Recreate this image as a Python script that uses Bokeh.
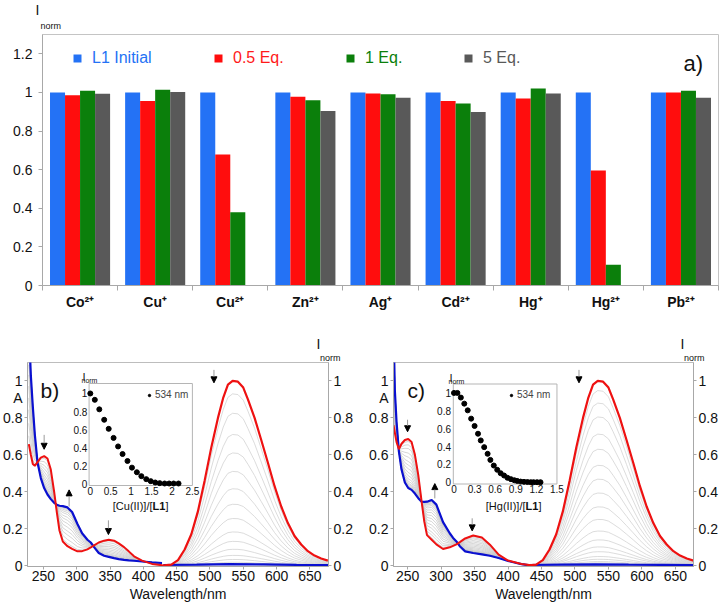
import numpy as np
from bokeh.plotting import figure
from bokeh.models import (Range1d, LinearAxis, FixedTicker, Label, Legend, LegendItem,
                          Arrow, NormalHead, Title)
from bokeh.layouts import column, row
from bokeh.embed import file_html
from bokeh.resources import INLINE
from bokeh.core.properties import value

FONT = "Liberation Sans"

# ---------------- (a) bar chart data ----------------
ions = ["Co²⁺", "Cu⁺", "Cu²⁺", "Zn²⁺", "Ag⁺", "Cd²⁺", "Hg⁺", "Hg²⁺", "Pb²⁺"]
series_labels = ["L1 Initial", "0.5 Eq.", "1 Eq.", "5 Eq."]
l1_initial = [1.0, 1.0, 1.0, 1.0, 1.0, 1.0, 1.0, 1.0, 1.0]
eq_05 = [0.986, 0.956, 0.679, 0.978, 0.995, 0.956, 0.969, 0.595, 1.0]
eq_1 = [1.009, 1.014, 0.379, 0.959, 0.99, 0.942, 1.02, 0.108, 1.009]
eq_5 = [0.993, 1.002, 0.003, 0.904, 0.973, 0.899, 0.995, 0.003, 0.973]
a_yticks = [0, 0.2, 0.4, 0.6, 0.8, 1.0, 1.2]
a_ylabels = ["0", "0.2", "0.4", "0.6", "0.8", "1", "1.2"]

# ---------------- (b)/(c) spectra data ----------------
spec_yticks = [0, 0.2, 0.4, 0.6, 0.8, 1.0]
spec_ylabels = ["0", "0.2", "0.4", "0.6", "0.8", "1"]
abs_title_pos = 0.91          # where the "A" title of the absorbance axis sits
wl_ticks = [250, 300, 350, 400, 450, 500, 550, 600, 650]

# absorption, panel b (Cu(II))
abs_b_nm = [228, 231, 234, 237, 241, 246, 251, 256, 261, 266, 270, 274, 279, 286, 293, 301,
            308, 316, 321, 326, 333, 341, 348, 356, 363, 371, 378, 386, 398, 413, 428]
abs_b_red = [0.658, 0.60, 0.55, 0.54, 0.56, 0.585, 0.593, 0.58, 0.52, 0.40, 0.29, 0.19, 0.13,
             0.105, 0.09, 0.077, 0.078, 0.088, 0.098, 0.11, 0.125, 0.135, 0.14, 0.135, 0.12,
             0.10, 0.077, 0.05, 0.027, 0.009, 0.002]
abs_b_blue = [1.3, 1.03, 0.86, 0.71, 0.56, 0.474, 0.42, 0.385, 0.36, 0.34, 0.33, 0.324, 0.322,
              0.315, 0.29, 0.225, 0.175, 0.14, 0.125, 0.10, 0.068, 0.053, 0.047, 0.04, 0.035,
              0.031, 0.028, 0.026, 0.022, 0.017, 0.014]

# absorption, panel c (Hg(II))
abs_c_nm = [229, 231, 233.5, 237, 241, 246, 251, 256, 261, 266, 271, 275, 279, 286, 293, 303,
            313, 318, 323, 328, 336, 348, 361, 373, 386, 400, 420, 435]
abs_c_red = [0.76, 0.72, 0.67, 0.63, 0.66, 0.68, 0.686, 0.67, 0.60, 0.49, 0.346, 0.238, 0.165,
             0.14, 0.115, 0.09, 0.099, 0.107, 0.115, 0.127, 0.147, 0.163, 0.152, 0.113, 0.059,
             0.027, 0.009, 0.002]
abs_c_blue = [1.3, 0.95, 0.78, 0.62, 0.52, 0.45, 0.42, 0.41, 0.39, 0.365, 0.346, 0.345, 0.346,
              0.355, 0.33, 0.235, 0.175, 0.15, 0.131, 0.105, 0.077, 0.068, 0.061, 0.053, 0.041,
              0.025, 0.008, 0.0]

# emission of free L1 (normalised)
em_nm = [428, 442, 452, 462, 472, 482, 492, 502, 512, 520, 527, 534, 542, 550, 557, 567, 577,
         587, 597, 607, 617, 627, 637, 647, 657, 667, 677]
em_red = [0.0, 0.005, 0.03, 0.087, 0.17, 0.295, 0.46, 0.64, 0.80, 0.91, 0.98, 1.0, 0.996, 0.964,
          0.90, 0.80, 0.68, 0.557, 0.43, 0.32, 0.23, 0.16, 0.114, 0.078, 0.054, 0.038, 0.027]
# emission after titration (final)
em_blue_nm = [430, 480, 530, 580, 630, 678]
em_blue_b = [0.003, 0.005, 0.008, 0.006, 0.004, 0.003]
em_blue_c = [0.003, 0.005, 0.007, 0.005, 0.004, 0.003]

# insets: I_norm at 534 nm vs equivalents
ins_b_x = [0, 0.11, 0.22, 0.34, 0.45, 0.57, 0.68, 0.79, 0.91, 1.02, 1.14, 1.25, 1.37, 1.48,
           1.59, 1.70, 1.82, 1.93, 2.04, 2.16]
ins_b_y = [1.0, 0.93, 0.825, 0.71, 0.61, 0.51, 0.416, 0.332, 0.255, 0.182, 0.131, 0.088, 0.055,
           0.033, 0.018, 0.011, 0.007, 0.007, 0.007, 0.007]
ins_c_x = [0, 0.05, 0.1, 0.15, 0.2, 0.25, 0.3, 0.35, 0.39, 0.44, 0.49, 0.53, 0.58, 0.63, 0.68,
           0.73, 0.78, 0.83, 0.88, 0.92, 0.97, 1.02, 1.07, 1.12, 1.16, 1.21, 1.26]
ins_c_y = [1.0, 1.0, 0.948, 0.88, 0.805, 0.712, 0.63, 0.543, 0.468, 0.393, 0.318, 0.25, 0.187,
           0.139, 0.101, 0.075, 0.049, 0.034, 0.022, 0.015, 0.007, 0.004, 0.002, 0.0, 0.0, 0.0, 0.0]
ins_b_xticks = [0, 0.5, 1, 1.5, 2, 2.5]
ins_b_xlabels = ["0", "0.5", "1", "1.5", "2", "2.5"]
ins_c_xticks = [0, 0.3, 0.6, 0.9, 1.2, 1.5]
ins_c_xlabels = ["0", "0.3", "0.6", "0.9", "1.2", "1.5"]

RED = "#EE1111"
BLUE = "#0A10D0"
GRAY_ABS = "#c4c4c4"
GRAY_EM = "#d3d3d3"
AXC = "#a8a8a8"


def style_axis(ax, size, ticks, labels=None, bold=False, tick_out=3, minor=None):
    ax.ticker = FixedTicker(ticks=ticks, minor_ticks=minor or [])
    if labels is not None:
        ax.major_label_overrides = {t: l for t, l in zip(ticks, labels)}
    ax.major_label_text_font = FONT
    ax.major_label_text_font_size = size
    ax.major_label_text_color = "#111111"
    if bold:
        ax.major_label_text_font_style = "bold"
    ax.axis_line_color = AXC
    ax.major_tick_line_color = AXC
    ax.minor_tick_line_color = AXC
    ax.major_tick_in = 0
    ax.major_tick_out = tick_out
    ax.minor_tick_in = 0
    ax.minor_tick_out = 3 if minor else 0
    ax.major_label_standoff = 2


def add_label(p, text, x, y, size, bold=False, color="#111111", align="left"):
    p.add_layout(Label(x=x, y=y, x_units="screen", y_units="screen", text=text,
                       text_font=FONT, text_font_size=size, text_color=color,
                       text_font_style="bold" if bold else "normal",
                       text_align=align, text_baseline="alphabetic"))


def add_title(p, text, place, size, align, offset, standoff=0):
    p.add_layout(Title(text=text, align=align, offset=offset, standoff=standoff,
                       text_font=FONT, text_font_size=size, text_font_style="normal",
                       text_color="#111111"), place)


# ======================= (a) =======================
pa = figure(width=720, height=312, x_range=Range1d(0, len(ions)), y_range=Range1d(0, 1.3),
            output_backend="svg", toolbar_location=None,
            min_border_left=42, min_border_right=2, min_border_top=34, min_border_bottom=24)
pa.grid.visible = False
pa.outline_line_color = "#c4c4c4"

bar_colors = ["#2472F5", "#FF0D0D", "#0B7F0B", "#595959"]
text_colors = ["#2472F5", "#FF1A1A", "#0B7F0B", "#595959"]
offsets = [-0.3, -0.1, 0.1, 0.3]
bar_renderers = []
for vals, col, off in zip([l1_initial, eq_05, eq_1, eq_5], bar_colors, offsets):
    xs = [i + 0.5 + off for i in range(len(ions))]
    r = pa.vbar(x=xs, top=vals, bottom=0, width=0.2, fill_color=col, line_color=None)
    bar_renderers.append(r)

centers = [i + 0.5 for i in range(len(ions))]
style_axis(pa.xaxis[0], "14px", centers, ions, bold=True, tick_out=0)
pa.xaxis[0].ticker = FixedTicker(ticks=centers, minor_ticks=list(range(len(ions) + 1)))
pa.xaxis[0].minor_tick_out = 5
pa.xaxis[0].major_label_standoff = 3
style_axis(pa.yaxis[0], "14px", a_yticks, a_ylabels, tick_out=4)
pa.yaxis[0].major_label_standoff = 6

legend_x = [30, 171, 303, 421]
for r, lbl, tc, lx in zip(bar_renderers, series_labels, text_colors, legend_x):
    lg = Legend(items=[LegendItem(label=lbl, renderers=[r])], location=(lx, 218),
                orientation="horizontal", padding=0, margin=0, spacing=0,
                glyph_width=10, glyph_height=10, label_height=10, label_standoff=10,
                label_text_font=FONT, label_text_font_size="16px", label_text_color=tc,
                background_fill_alpha=0, border_line_alpha=0)
    pa.add_layout(lg)

add_title(pa, "norm", "above", "9px", "left", -2, standoff=7)
add_title(pa, "I", "above", "14px", "left", -7, standoff=-4)
add_label(pa, "a)", 641, 222, "22px")


# ======================= (b), (c) =======================
def inset_ranges(fw, fh, left, right, top, bottom, x0, x1, y0, y1):
    kx = (x1 - x0) / (right - left)
    ky = (y1 - y0) / (bottom - top)
    xr = Range1d(x0 - left * kx, x1 + (fw - right) * kx)
    yr = Range1d(y0 - (fh - bottom) * ky, y1 + top * ky)
    return xr, yr


def spectra_panel(width, bl, fw, xlim, abs_nm, abs_red, abs_blue, em_blue, ins_x, ins_y,
                  ins_xticks, ins_xlabels, ins_box, ins_lim, metal, panel_letter, arrows,
                  pos):
    fh = 204
    p = figure(width=width, height=291, x_range=Range1d(*xlim), y_range=Range1d(-0.005, 1.1),
               output_backend="svg", toolbar_location=None,
               min_border_left=bl, min_border_right=width - bl - fw,
               min_border_top=50, min_border_bottom=291 - 50 - fh)
    p.grid.visible = False
    p.outline_line_color = "#bdbdbd"
    p.extra_y_ranges = {"em": Range1d(-0.005, 1.1)}
    xr, yr = inset_ranges(fw, fh, *ins_box, *ins_lim)
    p.extra_x_ranges = {"ix": xr}
    p.extra_y_ranges["iy"] = yr

    # absorption titration family
    fracs = [1 - v for v in ins_y[1:-1]]
    p.multi_line(xs=[abs_nm] * len(fracs),
                 ys=[[r * (1 - f) + b * f for r, b in zip(abs_red, abs_blue)] for f in fracs],
                 line_color=GRAY_ABS, line_width=0.7)
    # emission titration family
    p.multi_line(xs=[em_nm] * (len(ins_y) - 1),
                 ys=[[e * k for e in em_red] for k in ins_y[1:]],
                 line_color=GRAY_EM, line_width=0.8, y_range_name="em")
    p.line(abs_nm, abs_blue, line_color=BLUE, line_width=2.2)
    p.line(em_blue_nm, em_blue, line_color=BLUE, line_width=2.2, y_range_name="em")
    p.line(abs_nm, abs_red, line_color=RED, line_width=2)
    p.line(em_nm, em_red, line_color=RED, line_width=2.2, y_range_name="em")

    for (ax_x, y0, y1, rng) in arrows:
        p.add_layout(Arrow(end=NormalHead(size=6, fill_color="black", line_color="black"),
                           x_start=ax_x, y_start=y0, x_end=ax_x, y_end=y1,
                           line_color="#9a9a9a", line_width=1, y_range_name=rng))

    style_axis(p.xaxis[0], "14px", wl_ticks, tick_out=3)
    p.xaxis[0].major_label_standoff = 1
    style_axis(p.yaxis[0], "14px", spec_yticks + [abs_title_pos], spec_ylabels + ["A"],
               tick_out=0, minor=spec_yticks)
    ra = LinearAxis(y_range_name="em")
    style_axis(ra, "14px", spec_yticks, spec_ylabels, tick_out=0, minor=spec_yticks)
    p.add_layout(ra, "right")

    add_title(p, "Wavelength/nm", "below", "14px", "center", pos["xlab_off"])
    add_title(p, "norm", "above", "9px", "right", pos["norm_off"])
    add_title(p, "I", "above", "14px", "right", pos["I_off"], standoff=-3)

    # inset
    x0, x1, y0, y1 = ins_lim
    p.quad(left=[x0], right=[x1], bottom=[y0], top=[y1],
           fill_color="white", line_color="#b5b5b5", line_width=1,
           x_range_name="ix", y_range_name="iy")
    sc = p.scatter(ins_x, ins_y, size=5, color="black", x_range_name="ix", y_range_name="iy")
    p.text(x=[0] * len(spec_yticks), y=spec_yticks, text=spec_ylabels, x_offset=-3,
           text_align="right", text_baseline="middle", text_font=value(FONT),
           text_font_size="10px", text_color="#111111", x_range_name="ix", y_range_name="iy")
    p.text(x=ins_xticks, y=[y0] * len(ins_xticks), text=ins_xlabels, y_offset=1,
           text_align="center", text_baseline="top", text_font=value(FONT),
           text_font_size="10px", text_color="#111111", x_range_name="ix", y_range_name="iy")
    lg = Legend(items=[LegendItem(label="534 nm", renderers=[sc])], location=pos["leg"],
                padding=0, margin=0, spacing=0, glyph_width=6, glyph_height=6,
                label_height=6, label_standoff=3, label_text_font=FONT,
                label_text_font_size="10px", background_fill_alpha=0, border_line_alpha=0)
    p.add_layout(lg)

    add_label(p, panel_letter, *pos["letter"], "21px")
    ix_, iy_ = pos["Iinset"]
    add_label(p, "I", ix_, iy_, "11px")
    add_label(p, "norm", ix_ - 1, iy_ - 4, "7px")
    axx, axy = pos["xl"]
    add_label(p, "[" + metal + "(II)]/[", axx, axy, "11px", align="right")
    add_label(p, "L1", axx, axy, "11px", bold=True)
    add_label(p, "]", axx + 13, axy, "11px")
    return p


pb = spectra_panel(360, 25, 303, (226, 678), abs_b_nm, abs_b_red, abs_b_blue, em_blue_b,
                   ins_b_x, ins_b_y, ins_b_xticks, ins_b_xlabels,
                   (62, 166, 21, 123), (-0.03, 2.5, -0.015, 1.11), "Cu", "b)",
                   [(251, 0.708, 0.63, "default"), (288.5, 0.32, 0.41, "default"),
                    (347.5, 0.245, 0.168, "default"), (506, 1.06, 0.99, "em")],
                   {"leg": (119, 166), "letter": (13, 176), "Iinset": (55, 190),
                    "xl": (125, 61), "xlab_off": 11, "norm_off": -12, "I_off": 8})
pc = spectra_panel(360, 33, 301, (229, 677), abs_c_nm, abs_c_red, abs_c_blue, em_blue_c,
                   ins_c_x, ins_c_y, ins_c_xticks, ins_c_xlabels,
                   (60, 164, 21.5, 121.5), (-0.01, 1.5, -0.02, 1.10), "Hg", "c)",
                   [(250, 0.79, 0.725, "default"), (290.7, 0.364, 0.444, "default"),
                    (346.5, 0.256, 0.188, "default"), (506, 1.06, 0.99, "em")],
                   {"leg": (115, 166), "letter": (14, 176), "Iinset": (56, 189),
                    "xl": (132, 61), "xlab_off": 8, "norm_off": -11, "I_off": 9})

layout = column(pa, row(pb, pc))
open("out.html", "w").write(file_html(layout, INLINE))
